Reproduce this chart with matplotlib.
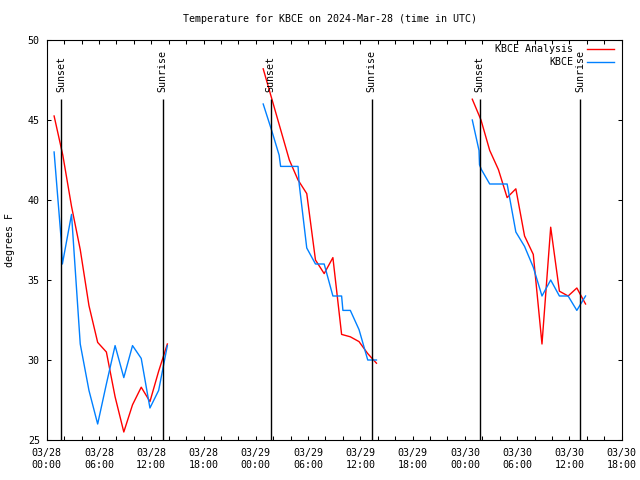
import matplotlib
matplotlib.use('Agg')
import matplotlib.pyplot as plt
import matplotlib.dates as mdates
from matplotlib.lines import Line2D
import pandas as pd

plt.rcParams['font.family'] = ['DejaVu Sans Mono']
FS = 7.2

# ---------------- data ----------------
title = 'Temperature for KBCE on 2024-Mar-28 (time in UTC)'
base_time = '2024-03-28 00:00'

# KBCE Analysis: hourly values per night, with start time of each night
analysis_starts = ['2024-03-28 00:51', '2024-03-29 00:51', '2024-03-30 00:51']
analysis_n1 = [45.25, 42.8, 39.6, 36.9, 33.4, 31.1, 30.5, 27.7, 25.5, 27.2, 28.3, 27.4, 29.3, 31.0]
analysis_n2 = [48.2, 46.3, 44.4, 42.5, 41.25, 40.4, 36.25, 35.4, 36.4, 31.6, 31.45, 31.15, 30.4, 29.8]
analysis_n3 = [46.3, 45.0, 43.1, 41.9, 40.15, 40.7, 37.75, 36.6, 31.0, 38.3, 34.3, 34.0, 34.5, 33.5]

# KBCE observations: hours after base_time and temperatures
obs_hours_n1 = [0.85, 1.65, 1.80, 2.85, 3.85, 4.85, 5.85, 6.85, 7.85, 8.85, 9.85, 10.85, 11.85, 12.85, 13.85]
obs_temps_n1 = [43.0, 37.6, 36.0, 39.1, 31.0, 28.1, 26.0, 28.5, 30.9, 28.9, 30.9, 30.1, 27.0, 28.1, 30.9]
obs_hours_n2 = [24.85, 25.85, 26.68, 26.85, 28.85, 28.98, 29.85, 30.85, 31.85, 32.85, 33.85, 34.0, 34.85, 35.85, 36.85, 37.85]
obs_temps_n2 = [46.0, 44.3, 42.8, 42.1, 42.1, 41.0, 37.0, 36.0, 36.0, 34.0, 34.0, 33.1, 33.1, 31.9, 30.0, 30.0]
obs_hours_n3 = [48.85, 49.62, 49.68, 49.90, 50.85, 51.85, 52.85, 53.85, 54.85, 55.85, 56.85, 57.85, 58.85, 59.85, 60.85, 61.85]
obs_temps_n3 = [45.0, 43.1, 42.2, 41.9, 41.0, 41.0, 41.0, 38.0, 37.1, 35.8, 34.0, 35.0, 34.0, 34.0, 33.1, 34.0]

sunset_times = ['2024-03-28 01:41', '2024-03-29 01:42', '2024-03-30 01:43']
sunrise_times = ['2024-03-28 13:18', '2024-03-29 13:17', '2024-03-30 13:16']

x_start = '2024-03-28 00:00'
x_end = '2024-03-30 18:00'
y_ticks = [25, 30, 35, 40, 45, 50]

RED = '#ff0000'
BLUE = '#0080ff'

# ---------------- figure ----------------
fig = plt.figure(figsize=(6.4, 4.8), dpi=100)
ax = fig.add_axes([46.7 / 640, 40 / 480, 575 / 640, 400 / 480])

base = pd.Timestamp(base_time)
for start, vals in zip(analysis_starts, [analysis_n1, analysis_n2, analysis_n3]):
    t = pd.date_range(pd.Timestamp(start), periods=len(vals), freq='h')
    ax.plot(t, vals, color=RED, lw=1.0)

for hrs, vals in [(obs_hours_n1, obs_temps_n1), (obs_hours_n2, obs_temps_n2), (obs_hours_n3, obs_temps_n3)]:
    t = base + pd.to_timedelta(hrs, unit='h')
    ax.plot(t, vals, color=BLUE, lw=1.0)

for times, label in [(sunset_times, 'Sunset'), (sunrise_times, 'Sunrise')]:
    for s in times:
        ts = pd.Timestamp(s)
        ax.vlines(ts, 25, 46.31, color='black', lw=1.0)
        ax.text(ts, 46.75, label, rotation=90, ha='center', va='bottom', fontsize=FS)

ax.set_xlim(pd.Timestamp(x_start), pd.Timestamp(x_end))
ax.set_ylim(25, 50)
ax.set_yticks(y_ticks)
ax.xaxis.set_major_locator(mdates.HourLocator(byhour=[0, 6, 12, 18]))
ax.xaxis.set_minor_locator(mdates.HourLocator(byhour=range(0, 24, 2)))
ax.xaxis.set_major_formatter(mdates.DateFormatter('%m/%d\n%H:%M'))
ax.tick_params(which='both', direction='in', top=True, right=True, length=2.9, width=0.75,
               labelsize=FS, colors='black')
ax.tick_params(axis='x', pad=5.5)
ax.tick_params(axis='y', pad=5.0)
for lab in ax.get_xticklabels():
    lab.set_linespacing(1.3)
for sp in ax.spines.values():
    sp.set_linewidth(0.8)

# legend (gnuplot-style, right-aligned text)
tr = ax.transAxes
ax.text(0.9158, 0.9775, 'KBCE Analysis', transform=tr, ha='right', va='center', fontsize=FS)
ax.add_line(Line2D([0.9391, 0.9871], [0.9775, 0.9775], transform=tr, color=RED, lw=1.0))
ax.text(0.9158, 0.944, 'KBCE', transform=tr, ha='right', va='center', fontsize=FS)
ax.add_line(Line2D([0.9391, 0.9871], [0.944, 0.944], transform=tr, color=BLUE, lw=1.0))

fig.text(330 / 640, 1 - 19 / 480, title, ha='center', va='center', fontsize=FS)
fig.text(10 / 640, 0.5, 'degrees F', rotation=90, ha='center', va='center', fontsize=FS)

fig.savefig('out.png', dpi=100)
